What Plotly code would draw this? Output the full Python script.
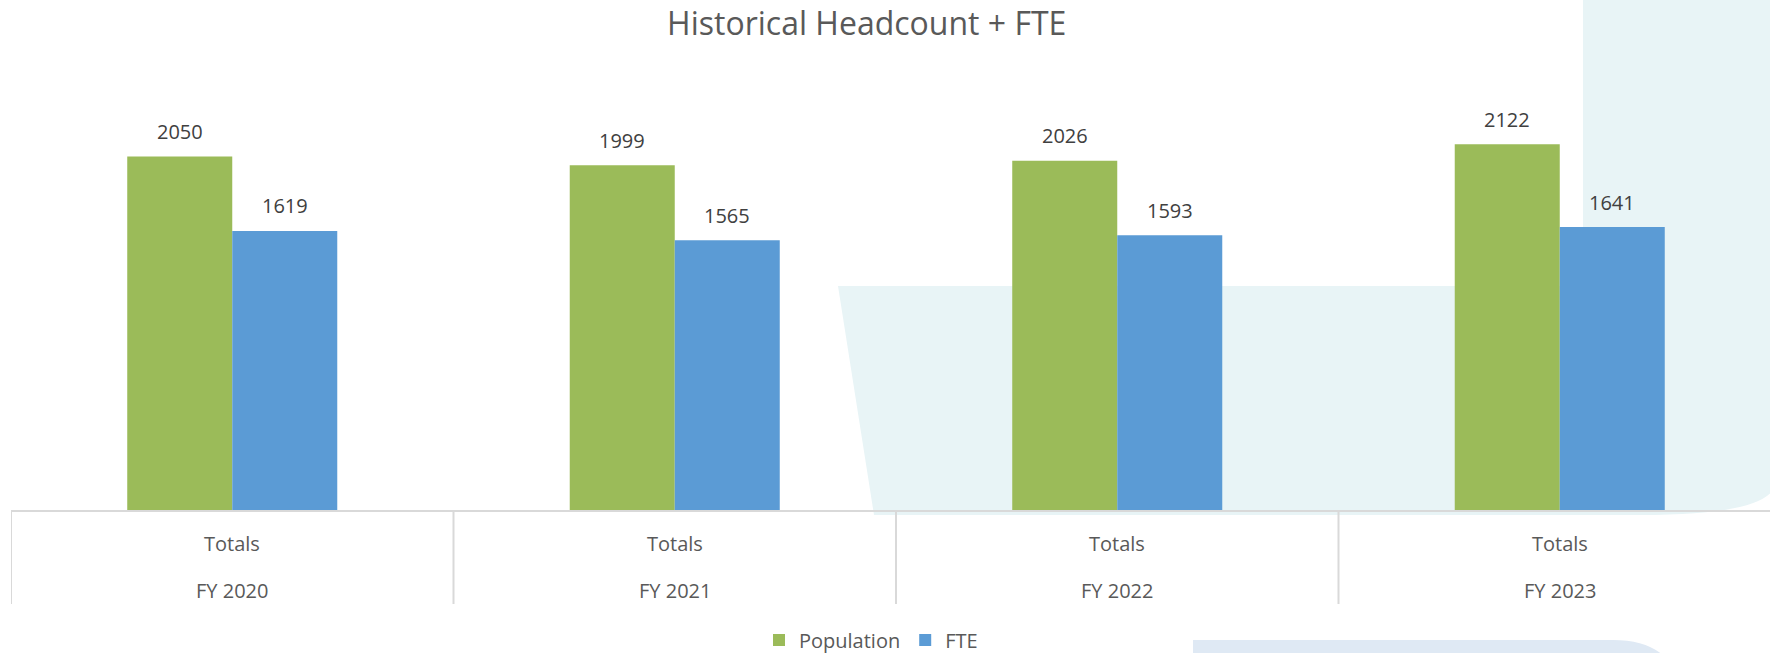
import plotly.graph_objects as go

# ---- data ----
years = ["FY 2020", "FY 2021", "FY 2022", "FY 2023"]
subcat = ["Totals", "Totals", "Totals", "Totals"]
population = [2050, 1999, 2026, 2122]
fte = [1619, 1565, 1593, 1641]

GREEN = "#9BBB59"
BLUE = "#5B9BD5"
FONT = "Open Sans"

W, H = 1770, 653
ML, MR, MT, MB = 11, 0, 79, 143
PW = W - ML - MR
PH = H - MT - MB
BASE = H - MB  # baseline pixel


def px(x):
    return (x - ML) / PW


def py(y):
    return (BASE - y) / PH


fig = go.Figure()
fig.add_trace(go.Bar(x=years, y=population, name="Population",
                     marker=dict(color=GREEN, line=dict(width=0)), hoverinfo="skip"))
fig.add_trace(go.Bar(x=years, y=fte, name="FTE",
                     marker=dict(color=BLUE, line=dict(width=0)), hoverinfo="skip"))

annotations = []
for yr, p, f in zip(years, population, fte):
    annotations.append(dict(x=yr, y=p, xref="x", yref="y", text=str(p), showarrow=False,
                            xshift=-52.5, yshift=25, yanchor="middle",
                            font=dict(family=FONT, size=20, color="#404040")))
    annotations.append(dict(x=yr, y=f, xref="x", yref="y", text=str(f), showarrow=False,
                            xshift=52.5, yshift=25, yanchor="middle",
                            font=dict(family=FONT, size=20, color="#404040")))
for yr, sc in zip(years, subcat):
    annotations.append(dict(x=yr, y=py(543), xref="x", yref="paper", text=sc, showarrow=False,
                            yanchor="middle", font=dict(family=FONT, size=20, color="#595959")))
    annotations.append(dict(x=yr, y=py(590), xref="x", yref="paper", text=yr, showarrow=False,
                            yanchor="middle", font=dict(family=FONT, size=20, color="#595959")))

shapes = []
# decorative background
band = (f"M {px(838)},{py(286)} L {px(1583)},{py(286)} L {px(1583)},{py(-5)} "
        f"L {px(1775)},{py(-5)} L {px(1775)},{py(486)} Q {px(1765)},{py(515)} {px(1640)},{py(515)} "
        f"L {px(874)},{py(515)} Z")
shapes.append(dict(type="path", path=band, xref="paper", yref="paper", layer="below",
                   fillcolor="#E8F4F6", line=dict(width=0)))
band2 = (f"M {px(1193)},{py(640)} L {px(1613)},{py(640)} Q {px(1650)},{py(640)} {px(1668)},{py(660)} "
         f"L {px(1193)},{py(660)} Z")
shapes.append(dict(type="path", path=band2, xref="paper", yref="paper", layer="below",
                   fillcolor="#DFE9F4", line=dict(width=0)))
# category separators
for i in range(len(years) + 1):
    shapes.append(dict(type="line", xref="x", yref="paper", x0=i - 0.5, x1=i - 0.5,
                       y0=0, y1=py(604), line=dict(color="#D9D9D9", width=2)))

fig.update_layout(
    width=W, height=H,
    margin=dict(l=ML, r=MR, t=MT, b=MB, pad=0, autoexpand=False),
    paper_bgcolor="white", plot_bgcolor="rgba(0,0,0,0)",
    barmode="group", bargap=0.5254, bargroupgap=0,
    title=dict(text="Historical Headcount + FTE", x=866.7 / W, xanchor="center",
               y=1 - 23.5 / H, yanchor="middle", yref="container",
               font=dict(family=FONT, size=32, color="#595959")),
    xaxis=dict(type="category", range=[-0.5, -0.5 + PW / 442.5], showticklabels=False,
               showgrid=False, zeroline=False, showline=True, linecolor="#D9D9D9", linewidth=2,
               ticks="", fixedrange=True),
    yaxis=dict(range=[0, 2500], visible=False, showgrid=False, zeroline=False, fixedrange=True),
    legend=dict(orientation="h", xref="container", yref="container",
                x=871 / W, xanchor="center", y=1 - 640 / H, yanchor="middle",
                font=dict(family=FONT, size=20, color="#595959"), itemwidth=30,
                bgcolor="rgba(0,0,0,0)", traceorder="normal"),
    annotations=annotations,
    shapes=shapes,
    showlegend=True,
)

fig.write_html("out.html", config={"displayModeBar": False},
               post_script="document.body.style.margin='0';document.body.style.overflow='hidden';")
